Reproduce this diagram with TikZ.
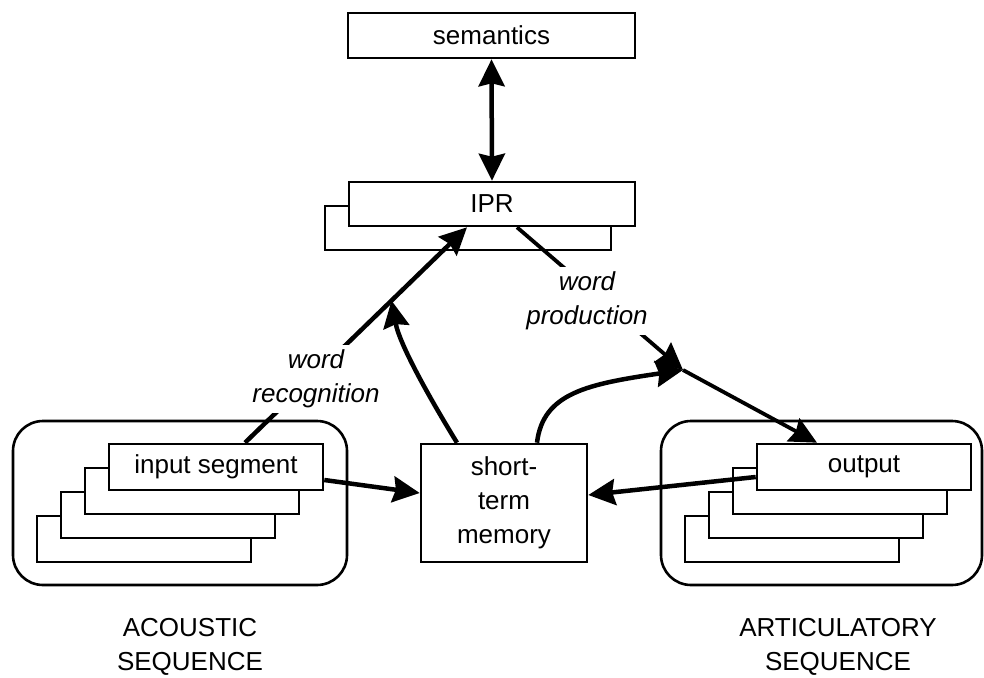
\documentclass[tikz,border=0pt]{standalone}
\usepackage{fontspec}
\setmainfont{Liberation Sans}
\usetikzlibrary{arrows.meta,calc}
\begin{document}
\begin{tikzpicture}[x=1pt,y=-1pt,
  txt/.style={font=\fontsize{26}{34}\selectfont},
  box/.style={draw,line width=2.6pt,fill=white,inner sep=0pt,txt},
  group/.style={draw,line width=2.6pt,rounded corners=30pt},
  arr/.style={line width=4.5pt,-{Stealth[length=27pt,width=26pt,inset=3pt]}},
  thinarr/.style={line width=3.8pt,-{Stealth[length=27pt,width=26pt,inset=3pt]}},
  darr/.style={line width=4.5pt,{Stealth[length=27pt,width=26pt,inset=3pt]}-{Stealth[length=27pt,width=26pt,inset=3pt]}},
  lab/.style={txt,font=\fontsize{26}{34}\selectfont\itshape,fill=white,align=center,inner sep=5pt},
  seqcaption/.style={txt,align=center,inner sep=0pt}]
\useasboundingbox (0,0) rectangle (984,677);

% grouping frames
\draw[group] (13,421) rectangle (347,585);
\draw[group] (661,421) rectangle (982,585);

% semantics and the IPR with its shadow copy
\node[box,minimum width=287pt,minimum height=45pt] (sem) at (491.5,35.5) {semantics};
\node[box,minimum width=286pt,minimum height=44pt] (iprb) at (468,228) {};
\node[box,minimum width=286pt,minimum height=44pt] (ipr) at (492,204) {IPR};

% acoustic sequence stack
\node[box,minimum width=214pt,minimum height=46pt] (in4) at (144,539) {};
\node[box,minimum width=214pt,minimum height=46pt] (in3) at (168,515) {};
\node[box,minimum width=214pt,minimum height=46pt] (in2) at (192,491) {};
\node[box,minimum width=214pt,minimum height=46pt] (inseg) at (216,467) {input segment};

% articulatory sequence stack
\node[box,minimum width=214pt,minimum height=46pt] (out4) at (792,539) {};
\node[box,minimum width=214pt,minimum height=46pt] (out3) at (816,515) {};
\node[box,minimum width=214pt,minimum height=46pt] (out2) at (840,491) {};
\node[box,minimum width=214pt,minimum height=46pt] (out) at (864,467) {output};

% short-term memory
\node[box,minimum width=166pt,minimum height=118pt,align=center] (stm) at (504,503) {short-\\term\\memory};

% connectors
\draw[darr] (sem.south) -- (ipr.north);

\coordinate (wrA) at ([xshift=29pt]inseg.north);
\coordinate (wrB) at ([xshift=-25pt]ipr.south);
\coordinate (wrC) at ($(wrA)!0.66!(wrB)$);
\draw[arr] (wrA) -- (wrB);

\coordinate (wpA) at ([xshift=25pt]ipr.south);
\coordinate (J) at (683,370);
\draw[thinarr] (wpA) -- (J);

\draw[arr] ([xshift=-47pt]stm.north) .. controls +(-27,-44) and +(8,44) .. (wrC);
\draw[arr] ([xshift=33pt]stm.north) .. controls +(6,-50) and +(-95,14) .. (J);
\draw[thinarr] (J) -- ([xshift=-47pt]out.north);
\draw[arr] ([yshift=-13pt]inseg.east) -- ([yshift=10pt]stm.west);
\draw[arr] ([yshift=-10pt]out.west) -- ([yshift=8pt]stm.east);

% connector labels
\node[lab] (wrlab) at (316,379) {word\\recognition};
\node[lab] (wplab) at (587,301) {word\\production};

% sequence captions
\node[seqcaption] (acap) at (190,647) {ACOUSTIC\\SEQUENCE};
\node[seqcaption] (rcap) at (838,647) {ARTICULATORY\\SEQUENCE};
\end{tikzpicture}
\end{document}
